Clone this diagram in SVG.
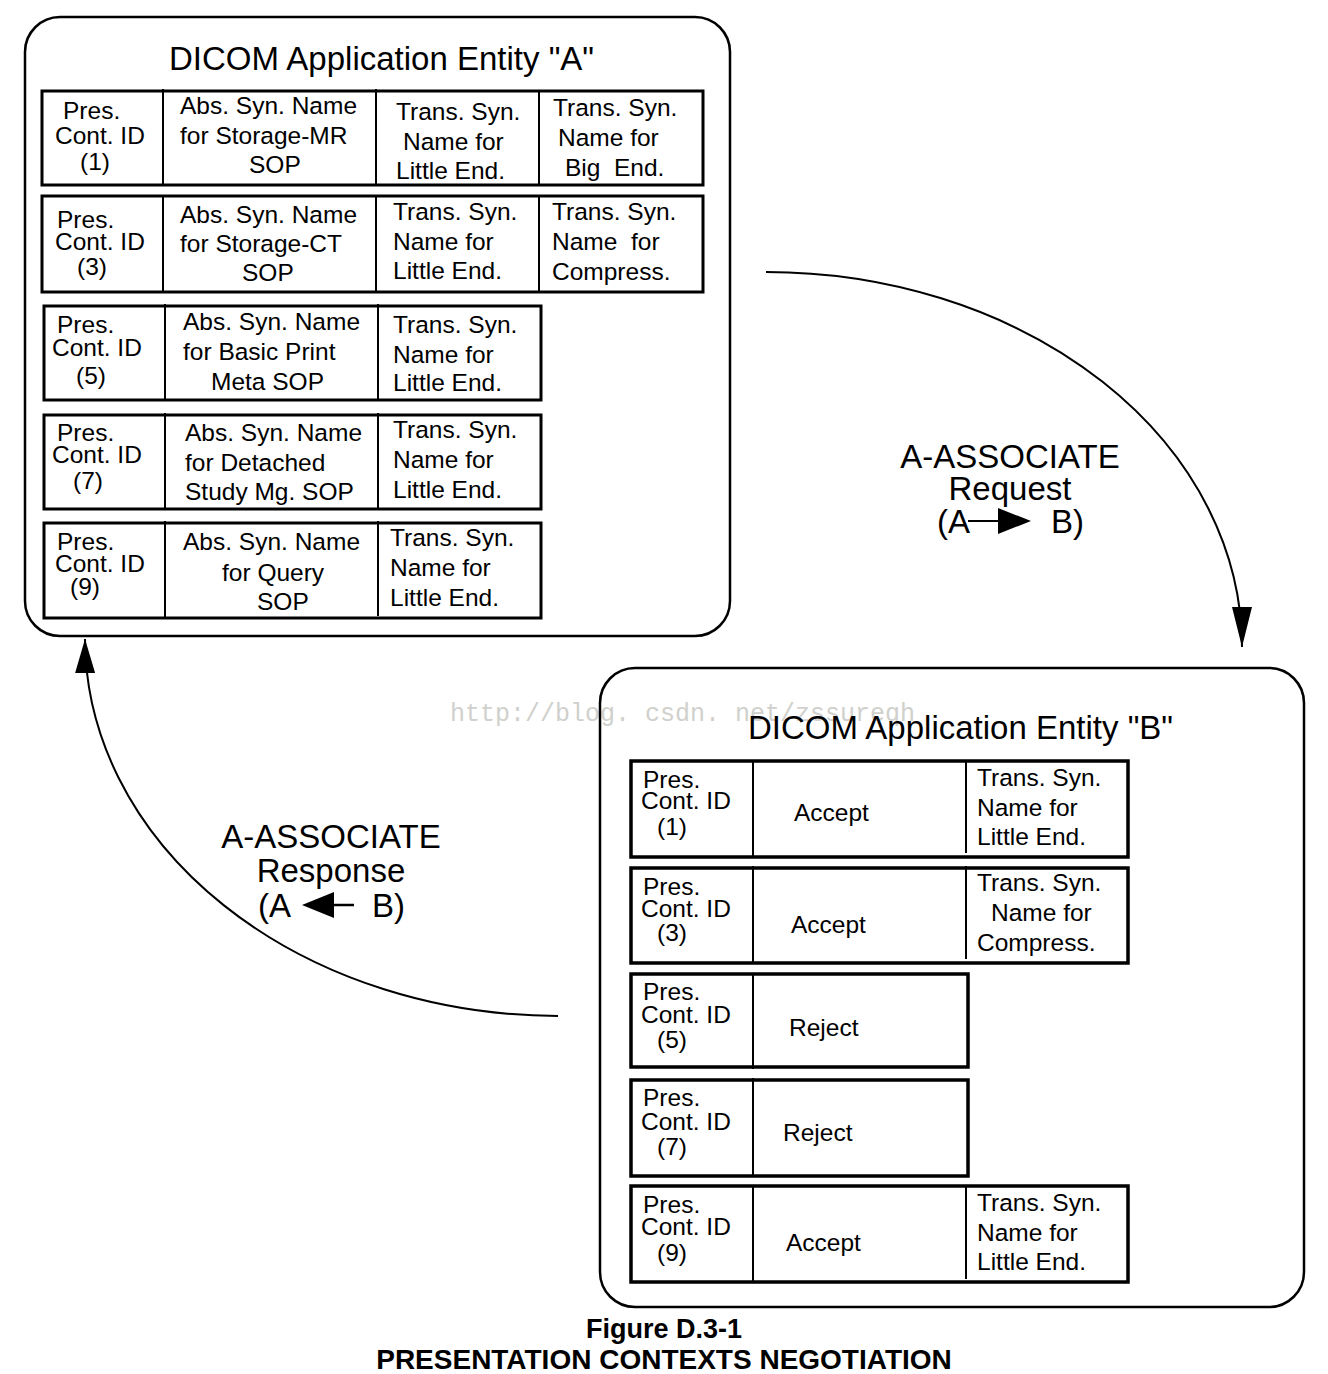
<svg xmlns="http://www.w3.org/2000/svg" width="1328" height="1374" viewBox="0 0 1328 1374">
<style>
text{font-family:"Liberation Sans",Arial,sans-serif;fill:#000}
.t{font-size:24.5px}
.ttl{font-size:33px}
.lbl{font-size:33px;text-anchor:middle}
.cap{font-size:27px;font-weight:bold;text-anchor:middle}
.cap2{font-size:28px}
.wm{font-family:"Liberation Mono","DejaVu Sans Mono",monospace;font-size:25px;fill:#d0d0cc}
.ent{fill:none;stroke:#000;stroke-width:2.5}
.row{fill:none;stroke:#000;stroke-width:3}
.rowb{fill:none;stroke:#000;stroke-width:3.5}
.dv{stroke:#000;stroke-width:2}
.con{fill:none;stroke:#000;stroke-width:2}
</style>
<defs>
<marker id="ah" markerUnits="userSpaceOnUse" markerWidth="40" markerHeight="22" viewBox="0 0 40 22" refX="40" refY="11" orient="auto">
<path d="M0,1 L40,11 L0,21 Z" fill="#000"/>
</marker>
<marker id="ah2" markerUnits="userSpaceOnUse" markerWidth="34" markerHeight="22" viewBox="0 0 34 22" refX="34" refY="11" orient="auto">
<path d="M0,1 L34,11 L0,21 Z" fill="#000"/>
</marker>
</defs>
<rect width="1328" height="1374" fill="#fff"/>

<g id="entityA">
<rect class="ent" x="25" y="17" width="705" height="619" rx="35"/>
<text class="ttl" x="169" y="70">DICOM Application Entity "A"</text>
</g>

<g id="a1">
<rect class="row" x="42" y="91" width="661" height="94"/>
<line class="dv" x1="163" y1="89" x2="163" y2="185"/><line class="dv" x1="376" y1="89" x2="376" y2="185"/><line class="dv" x1="539" y1="91" x2="539" y2="185"/>
<text class="t" x="63" y="119">Pres.</text><text class="t" x="55" y="144">Cont. ID</text><text class="t" x="80" y="170">(1)</text>
<text class="t" x="180" y="114">Abs. Syn. Name</text><text class="t" x="180" y="144">for Storage-MR</text><text class="t" x="249" y="173">SOP</text>
<text class="t" x="396" y="120">Trans. Syn.</text><text class="t" x="403" y="150">Name for</text><text class="t" x="396" y="179">Little End.</text>
<text class="t" x="553" y="116">Trans. Syn.</text><text class="t" x="558" y="146">Name for</text><text class="t" x="565" y="176" style="white-space:pre">Big  End.</text>
</g>

<g id="a3">
<rect class="row" x="42" y="196" width="661" height="96"/>
<line class="dv" x1="163" y1="196" x2="163" y2="292"/><line class="dv" x1="376" y1="196" x2="376" y2="292"/><line class="dv" x1="539" y1="196" x2="539" y2="292"/>
<text class="t" x="57" y="228">Pres.</text><text class="t" x="55" y="250">Cont. ID</text><text class="t" x="77" y="275">(3)</text>
<text class="t" x="180" y="223">Abs. Syn. Name</text><text class="t" x="180" y="252">for Storage-CT</text><text class="t" x="242" y="281">SOP</text>
<text class="t" x="393" y="220">Trans. Syn.</text><text class="t" x="393" y="250">Name for</text><text class="t" x="393" y="279">Little End.</text>
<text class="t" x="552" y="220">Trans. Syn.</text><text class="t" x="552" y="250" style="white-space:pre">Name  for</text><text class="t" x="552" y="280">Compress.</text>
</g>

<g id="a5">
<rect class="row" x="44" y="306" width="497" height="94"/>
<line class="dv" x1="165" y1="304" x2="165" y2="400"/><line class="dv" x1="378" y1="304" x2="378" y2="400"/>
<text class="t" x="57" y="333">Pres.</text><text class="t" x="52" y="356">Cont. ID</text><text class="t" x="76" y="384">(5)</text>
<text class="t" x="183" y="330">Abs. Syn. Name</text><text class="t" x="183" y="360">for Basic Print</text><text class="t" x="211" y="390">Meta SOP</text>
<text class="t" x="393" y="333">Trans. Syn.</text><text class="t" x="393" y="363">Name for</text><text class="t" x="393" y="391">Little End.</text>
</g>

<g id="a7">
<rect class="row" x="44" y="415" width="497" height="94"/>
<line class="dv" x1="165" y1="413" x2="165" y2="509"/><line class="dv" x1="378" y1="413" x2="378" y2="509"/>
<text class="t" x="57" y="441">Pres.</text><text class="t" x="52" y="463">Cont. ID</text><text class="t" x="73" y="489">(7)</text>
<text class="t" x="185" y="441">Abs. Syn. Name</text><text class="t" x="185" y="471">for Detached</text><text class="t" x="185" y="500">Study Mg. SOP</text>
<text class="t" x="393" y="438">Trans. Syn.</text><text class="t" x="393" y="468">Name for</text><text class="t" x="393" y="498">Little End.</text>
</g>

<g id="a9">
<rect class="row" x="44" y="523" width="497" height="95"/>
<line class="dv" x1="165" y1="521" x2="165" y2="618"/><line class="dv" x1="378" y1="521" x2="378" y2="616"/>
<text class="t" x="57" y="550">Pres.</text><text class="t" x="55" y="572">Cont. ID</text><text class="t" x="70" y="595">(9)</text>
<text class="t" x="183" y="550">Abs. Syn. Name</text><text class="t" x="222" y="581">for Query</text><text class="t" x="257" y="610">SOP</text>
<text class="t" x="390" y="546">Trans. Syn.</text><text class="t" x="390" y="576">Name for</text><text class="t" x="390" y="606">Little End.</text>
</g>

<text class="wm" x="450" y="721">http://blog. csdn. net/zssureqh</text>

<g id="entityB">
<rect class="ent" x="600" y="668" width="704" height="639" rx="35"/>
<text class="ttl" x="748" y="739">DICOM Application Entity "B"</text>
</g>

<g id="b1">
<rect class="rowb" x="631" y="761" width="497" height="96"/>
<line class="dv" x1="753" y1="761" x2="753" y2="857"/><line class="dv" x1="966" y1="761" x2="966" y2="853"/>
<text class="t" x="643" y="788">Pres.</text><text class="t" x="641" y="809">Cont. ID</text><text class="t" x="657" y="835">(1)</text>
<text class="t" x="794" y="821">Accept</text>
<text class="t" x="977" y="786">Trans. Syn.</text><text class="t" x="977" y="816">Name for</text><text class="t" x="977" y="845">Little End.</text>
</g>

<g id="b3">
<rect class="rowb" x="631" y="868" width="497" height="95"/>
<line class="dv" x1="753" y1="866" x2="753" y2="963"/><line class="dv" x1="966" y1="866" x2="966" y2="959"/>
<text class="t" x="643" y="895">Pres.</text><text class="t" x="641" y="917">Cont. ID</text><text class="t" x="657" y="941">(3)</text>
<text class="t" x="791" y="933">Accept</text>
<text class="t" x="977" y="891">Trans. Syn.</text><text class="t" x="991" y="921">Name for</text><text class="t" x="977" y="951">Compress.</text>
</g>

<g id="b5">
<rect class="rowb" x="631" y="974" width="337" height="93"/>
<line class="dv" x1="753" y1="974" x2="753" y2="1069"/>
<text class="t" x="643" y="1000">Pres.</text><text class="t" x="641" y="1023">Cont. ID</text><text class="t" x="657" y="1048">(5)</text>
<text class="t" x="789" y="1036">Reject</text>
</g>

<g id="b7">
<rect class="rowb" x="631" y="1080" width="337" height="96"/>
<line class="dv" x1="753" y1="1078" x2="753" y2="1176"/>
<text class="t" x="643" y="1106">Pres.</text><text class="t" x="641" y="1130">Cont. ID</text><text class="t" x="657" y="1155">(7)</text>
<text class="t" x="783" y="1141">Reject</text>
</g>

<g id="b9">
<rect class="rowb" x="631" y="1186" width="497" height="96"/>
<line class="dv" x1="753" y1="1186" x2="753" y2="1282"/><line class="dv" x1="966" y1="1186" x2="966" y2="1279"/>
<text class="t" x="643" y="1213">Pres.</text><text class="t" x="641" y="1235">Cont. ID</text><text class="t" x="657" y="1261">(9)</text>
<text class="t" x="786" y="1251">Accept</text>
<text class="t" x="977" y="1211">Trans. Syn.</text><text class="t" x="977" y="1241">Name for</text><text class="t" x="977" y="1270">Little End.</text>
</g>

<g id="connectors">
<path class="con" d="M766,272 A476,375 0 0 1 1242,647" marker-end="url(#ah)"/>
<path class="con" d="M558,1016 A474,378 0 0 1 85,639" marker-end="url(#ah2)"/>
</g>

<g id="requestLabel">
<text class="lbl" x="1010" y="468">A-ASSOCIATE</text>
<text class="lbl" x="1010" y="500">Request</text>
<text class="ttl" x="937" y="533">(A</text>
<line x1="968" y1="521" x2="999" y2="521" stroke="#000" stroke-width="2"/>
<path d="M998,508 L1031,521 L998,534 Z" fill="#000"/>
<text class="ttl" x="1051" y="533">B)</text>
</g>

<g id="responseLabel">
<text class="lbl" x="331" y="848">A-ASSOCIATE</text>
<text class="lbl" x="331" y="882">Response</text>
<text class="ttl" x="258" y="917">(A</text>
<path d="M302,905 L334,892 L334,918 Z" fill="#000"/>
<line x1="333" y1="905" x2="354" y2="905" stroke="#000" stroke-width="2.5"/>
<text class="ttl" x="372" y="917">B)</text>
</g>

<g id="caption">
<text class="cap" x="664" y="1338">Figure D.3-1</text>
<text class="cap cap2" x="664" y="1369">PRESENTATION CONTEXTS NEGOTIATION</text>
</g>
</svg>
